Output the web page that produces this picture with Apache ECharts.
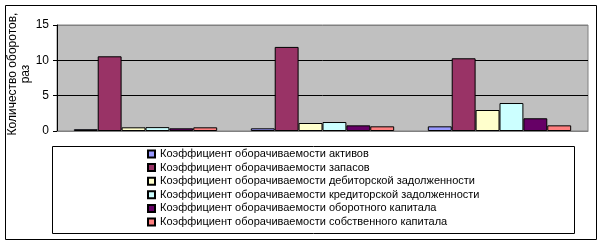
<!DOCTYPE html>
<html><head><meta charset="utf-8">
<script src="https://cdn.jsdelivr.net/npm/echarts@6/dist/echarts.min.js"></script>
<style>html,body{margin:0;padding:0;background:#fff}#c{width:603px;height:244px}</style>
</head><body><div id="c"></div>
<script>
const categories = ['1', '2', '3'];
const seriesNames = [
  'Коэффициент оборачиваемости активов',
  'Коэффициент оборачиваемости запасов',
  'Коэффициент оборачиваемости дебиторской задолженности',
  'Коэффициент оборачиваемости кредиторской задолженности',
  'Коэффициент оборачиваемости оборотного капитала',
  'Коэффициент оборачиваемости собственного капитала'
];
const assets = [0.25, 0.38, 0.66];
const inventory = [10.57, 11.9, 10.29];
const receivables = [0.52, 1.13, 2.97];
const payables = [0.55, 1.27, 3.96];
const workingCapital = [0.38, 0.8, 1.8];
const equity = [0.52, 0.66, 0.8];
const yTicks = [0, 5, 10, 15];
const yName = 'Количество оборотов,\nраз';
const colors = ['#9999FF', '#993366', '#FFFFCC', '#CCFFFF', '#660066', '#FF8080'];

const values = [assets, inventory, receivables, payables, workingCapital, equity];
const chart = echarts.init(document.getElementById('c'), null, {renderer: 'canvas'});
const font = 'Liberation Sans, Arial, sans-serif';
chart.setOption({
  animation: false,
  textStyle: {fontFamily: font},
  grid: {left: 57, right: 15, top: 25, bottom: 113, show: true, backgroundColor: '#C0C0C0', borderColor: '#808080', borderWidth: 1, outerBoundsMode: 'none', containLabel: false},
  xAxis: {
    type: 'category', data: categories,
    axisLine: {show: true, lineStyle: {color: '#808080', width: 1}},
    axisTick: {show: false}, axisLabel: {show: false}, splitLine: {show: false}
  },
  yAxis: {
    type: 'value', min: yTicks[0], max: yTicks[yTicks.length - 1], interval: 5,
    axisLine: {show: true, lineStyle: {color: '#000', width: 1}},
    axisTick: {show: true, length: 4, lineStyle: {color: '#000'}},
    axisLabel: {fontSize: 12, color: '#000', margin: 8, fontFamily: font},
    splitLine: {show: true, lineStyle: {color: ['#808080', '#000', '#000', '#808080'], width: 1}}
  },
  legend: {
    orient: 'vertical', left: 147, top: 148, padding: 0,
    itemWidth: 7, itemHeight: 7, itemGap: 1.6, icon: 'rect',
    textStyle: {fontSize: 11, color: '#000', fontFamily: font, lineHeight: 12},
    data: seriesNames
  },
  graphic: [
    {type: 'rect', shape: {x: 5.5, y: 5.5, width: 591, height: 234}, style: {fill: 'none', stroke: '#000', lineWidth: 1}, silent: true, z: -1},
    {type: 'rect', shape: {x: 52.5, y: 146.5, width: 522, height: 87}, style: {fill: 'none', stroke: '#000', lineWidth: 1}, silent: true},
    {type: 'text', x: 19, y: 74, rotation: Math.PI / 2, silent: true,
     style: {text: yName, font: '12px ' + font, fill: '#000', align: 'center', verticalAlign: 'middle', lineHeight: 13}}
  ],
  series: seriesNames.map((n, i) => ({
    name: n, type: 'bar', data: values[i],
    barGap: '0%', barCategoryGap: '19%',
    itemStyle: {color: colors[i], borderColor: '#000', borderWidth: 1}
  }))
});
</script></body></html>
